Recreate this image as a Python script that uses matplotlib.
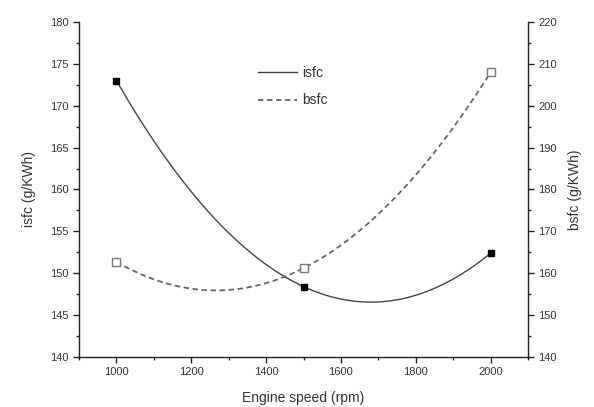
import numpy as np
import matplotlib
matplotlib.use("Agg")
import matplotlib.pyplot as plt
from matplotlib.ticker import MultipleLocator

plt.rcParams['font.family'] = ['Liberation Sans', 'DejaVu Sans']

speed = [1000, 1500, 2000]
isfc = [173.0, 148.4, 152.4]
bsfc = [162.7, 161.2, 208.0]

fig = plt.figure(figsize=(5.94, 4.07), dpi=100)
ax = fig.add_axes([0.133, 0.123, 0.756, 0.823])
ax2 = ax.twinx()

xs = np.linspace(speed[0], speed[-1], 200)
ci = np.polyfit(speed, isfc, 2)
cb = np.polyfit(speed, bsfc, 2)

tc = '#333333'
l1, = ax.plot(xs, np.polyval(ci, xs), color='#444444', lw=1.0, label='isfc')
ax.plot(speed, isfc, ls='none', marker='s', ms=5, mfc='black', mec='black')
l2, = ax2.plot(xs, np.polyval(cb, xs), color='#666666', lw=1.3, ls=(0, (3, 2)), label='bsfc')
ax2.plot(speed, bsfc, ls='none', marker='s', ms=5.5, mfc='white', mec='#777777', mew=1.0)

ax.set_xlim(900, 2100)
ax.set_ylim(140, 180)
ax2.set_ylim(140, 220)

ax.xaxis.set_major_locator(MultipleLocator(200))
ax.xaxis.set_minor_locator(MultipleLocator(100))
ax.yaxis.set_major_locator(MultipleLocator(5))
ax.yaxis.set_minor_locator(MultipleLocator(2.5))
ax2.yaxis.set_major_locator(MultipleLocator(10))
ax2.yaxis.set_minor_locator(MultipleLocator(5))

for a in (ax, ax2):
    a.spines['top'].set_visible(False)
    for s in a.spines.values():
        s.set_color('#222222')
        s.set_linewidth(1.0)
    a.tick_params(which='major', direction='out', length=4, width=1, colors='#222222', labelcolor=tc, labelsize=8)
    a.tick_params(which='minor', direction='out', length=2.5, width=1, colors='#222222')
ax.spines['right'].set_visible(False)
ax2.spines['left'].set_visible(False)
ax2.spines['bottom'].set_visible(False)

ax.set_xlabel('Engine speed (rpm)', fontsize=10, color=tc, labelpad=10)
ax.set_ylabel('isfc (g/KWh)', fontsize=10, color=tc, labelpad=10)
ax2.set_ylabel('bsfc (g/KWh)', fontsize=10, color=tc, labelpad=8)

leg = ax.legend(handles=[l1, l2], loc='upper left', bbox_to_anchor=(0.37, 0.905),
                frameon=False, fontsize=10, handlelength=2.8, handletextpad=0.4,
                labelspacing=0.95)
for t in leg.get_texts():
    t.set_color(tc)

fig.savefig('out.png', dpi=100)
